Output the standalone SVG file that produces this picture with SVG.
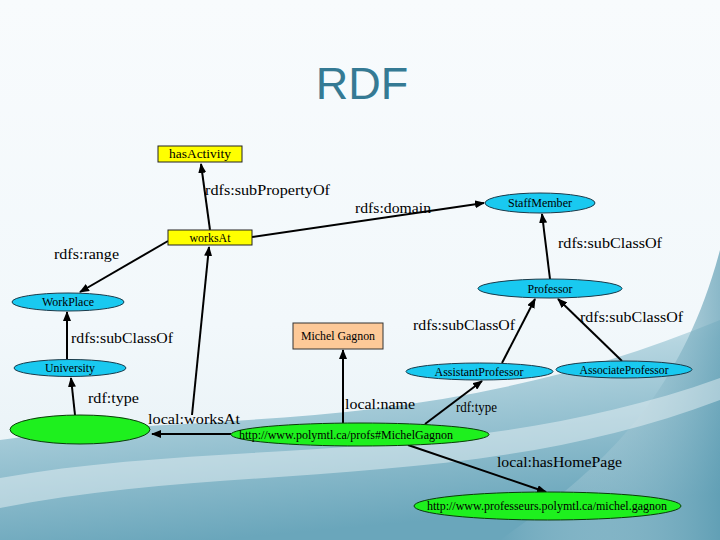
<svg xmlns="http://www.w3.org/2000/svg" width="720" height="540" viewBox="0 0 720 540">
<defs>
<linearGradient id="bg" x1="0" y1="0" x2="0" y2="1">
<stop offset="0" stop-color="#f8fbfd"/>
<stop offset="0.6" stop-color="#f2f8fb"/>
<stop offset="1" stop-color="#e4eff4"/>
</linearGradient>
<linearGradient id="wave" x1="0" y1="0" x2="0.3" y2="1">
<stop offset="0" stop-color="#d8eaf0" stop-opacity="0.2"/>
<stop offset="0.35" stop-color="#b5d5e0"/>
<stop offset="1" stop-color="#6aa6bb"/>
</linearGradient>
<linearGradient id="wave2" x1="0" y1="0" x2="1" y2="0">
<stop offset="0" stop-color="#ffffff" stop-opacity="0"/>
<stop offset="1" stop-color="#5e9db3" stop-opacity="0.7"/>
</linearGradient>
<marker id="arr" viewBox="0 0 10 8" refX="9" refY="4" markerWidth="10" markerHeight="8" markerUnits="userSpaceOnUse" orient="auto">
<path d="M0,0 L10,4 L0,8 z" fill="#000"/>
</marker>
<style>
.e{stroke:#000;stroke-width:2;fill:none;marker-end:url(#arr)}
.lbl{font-size:15px;fill:#000}
.nt{font-size:12px;fill:#000;text-anchor:middle}
.cls{fill:#19c9f0;stroke:#1a3a4a;stroke-width:1}
.res{fill:#1ef01e;stroke:#0b3b0b;stroke-width:1}
.prop{fill:#ffff00;stroke:#222;stroke-width:1}
.lit{fill:#fdc998;stroke:#333;stroke-width:1}
</style>
</defs>
<rect x="0" y="0" width="720" height="540" fill="url(#bg)"/>
<path d="M0,440 C200,410 430,440 720,320 L720,540 L0,540 Z" fill="url(#wave)"/>
<path d="M500,540 C600,470 680,400 720,250 L720,540 Z" fill="url(#wave2)"/>
<path d="M0,478 C220,438 470,468 720,378 L720,400 C480,492 230,462 0,508 Z" fill="#ffffff" opacity="0.4"/>
<text x="362" y="99" font-family="Liberation Sans, Arial, sans-serif" font-size="45" fill="#357a94" text-anchor="middle">RDF</text>

<g id="connectors" font-family="Liberation Serif, DejaVu Serif, Times New Roman, serif">
<line class="e" x1="210" y1="230" x2="201" y2="164"/>
<line class="e" x1="252" y1="237" x2="484" y2="203"/>
<line class="e" x1="168" y1="241" x2="80" y2="292"/>
<line class="e" x1="550" y1="279" x2="542" y2="214"/>
<line class="e" x1="67" y1="359" x2="67" y2="312"/>
<line class="e" x1="75" y1="415" x2="71" y2="378"/>
<line class="e" x1="231" y1="434" x2="152" y2="434"/>
<line class="e" x1="192" y1="415" x2="209" y2="247"/>
<line class="e" x1="343" y1="423" x2="343" y2="350"/>
<line class="e" x1="425" y1="424" x2="482" y2="381"/>
<line class="e" x1="502" y1="363" x2="535" y2="299"/>
<line class="e" x1="622" y1="361" x2="558" y2="299"/>
<line class="e" x1="408" y1="445" x2="546" y2="492"/>
<text class="lbl" x="205" y="195" textLength="125" lengthAdjust="spacingAndGlyphs">rdfs:subPropertyOf</text>
<text class="lbl" x="355" y="213" textLength="76" lengthAdjust="spacingAndGlyphs">rdfs:domain</text>
<text class="lbl" x="54" y="259" textLength="65" lengthAdjust="spacingAndGlyphs">rdfs:range</text>
<text class="lbl" x="558" y="248" textLength="104" lengthAdjust="spacingAndGlyphs">rdfs:subClassOf</text>
<text class="lbl" x="71" y="343" textLength="102" lengthAdjust="spacingAndGlyphs">rdfs:subClassOf</text>
<text class="lbl" x="413" y="330" textLength="102" lengthAdjust="spacingAndGlyphs">rdfs:subClassOf</text>
<text class="lbl" x="580" y="322" textLength="103" lengthAdjust="spacingAndGlyphs">rdfs:subClassOf</text>
<text class="lbl" x="88" y="403" textLength="51" lengthAdjust="spacingAndGlyphs">rdf:type</text>
<text class="lbl" x="148" y="424" textLength="92" lengthAdjust="spacingAndGlyphs">local:worksAt</text>
<text class="lbl" x="345" y="409" textLength="70" lengthAdjust="spacingAndGlyphs">local:name</text>
<text class="lbl" x="456" y="412" textLength="41" lengthAdjust="spacingAndGlyphs">rdf:type</text>
<text class="lbl" x="497" y="467" textLength="125" lengthAdjust="spacingAndGlyphs">local:hasHomePage</text>
</g>

<g id="nodes" font-family="Liberation Serif, DejaVu Serif, Times New Roman, serif">
<g id="hasActivity"><rect class="prop" x="158" y="146" width="84" height="16"/><text class="nt" x="200" y="158" textLength="62" lengthAdjust="spacingAndGlyphs">hasActivity</text></g>
<g id="worksAt"><rect class="prop" x="168" y="230" width="84" height="15"/><text class="nt" x="210" y="242" textLength="41" lengthAdjust="spacingAndGlyphs">worksAt</text></g>
<g id="StaffMember"><ellipse class="cls" cx="540" cy="203" rx="55" ry="10"/><text class="nt" x="540" y="207" textLength="64" lengthAdjust="spacingAndGlyphs">StaffMember</text></g>
<g id="Professor"><ellipse class="cls" cx="550" cy="288.5" rx="72" ry="9.5"/><text class="nt" x="550" y="293" textLength="45" lengthAdjust="spacingAndGlyphs">Professor</text></g>
<g id="WorkPlace"><ellipse class="cls" cx="68" cy="302" rx="56" ry="9"/><text class="nt" x="68" y="306" textLength="52" lengthAdjust="spacingAndGlyphs">WorkPlace</text></g>
<g id="University"><ellipse class="cls" cx="70" cy="368" rx="56" ry="8.5"/><text class="nt" x="70" y="372" textLength="50" lengthAdjust="spacingAndGlyphs">University</text></g>
<g id="AssistantProfessor"><ellipse class="cls" cx="479.5" cy="371.5" rx="73.5" ry="8.5"/><text class="nt" x="479" y="375.5" textLength="89" lengthAdjust="spacingAndGlyphs">AssistantProfessor</text></g>
<g id="AssociateProfessor"><ellipse class="cls" cx="624" cy="369.5" rx="68" ry="8.5"/><text class="nt" x="624" y="373.5" textLength="89" lengthAdjust="spacingAndGlyphs">AssociateProfessor</text></g>
<g id="MichelGagnonLiteral"><rect class="lit" x="293" y="323" width="90" height="26"/><text class="nt" x="338" y="340" textLength="74" lengthAdjust="spacingAndGlyphs">Michel Gagnon</text></g>
<g id="blank"><ellipse class="res" cx="80" cy="429.5" rx="70" ry="14.5"/></g>
<g id="MichelGagnonURI"><ellipse class="res" cx="360" cy="434.5" rx="129" ry="11.5"/><text class="nt" x="346" y="438.5" textLength="214" lengthAdjust="spacingAndGlyphs">http://www.polymtl.ca/profs#MichelGagnon</text></g>
<g id="HomePage"><ellipse class="res" cx="547.5" cy="506" rx="133.5" ry="14"/><text class="nt" x="547" y="510" textLength="240" lengthAdjust="spacingAndGlyphs">http://www.professeurs.polymtl.ca/michel.gagnon</text></g>
</g>
</svg>
